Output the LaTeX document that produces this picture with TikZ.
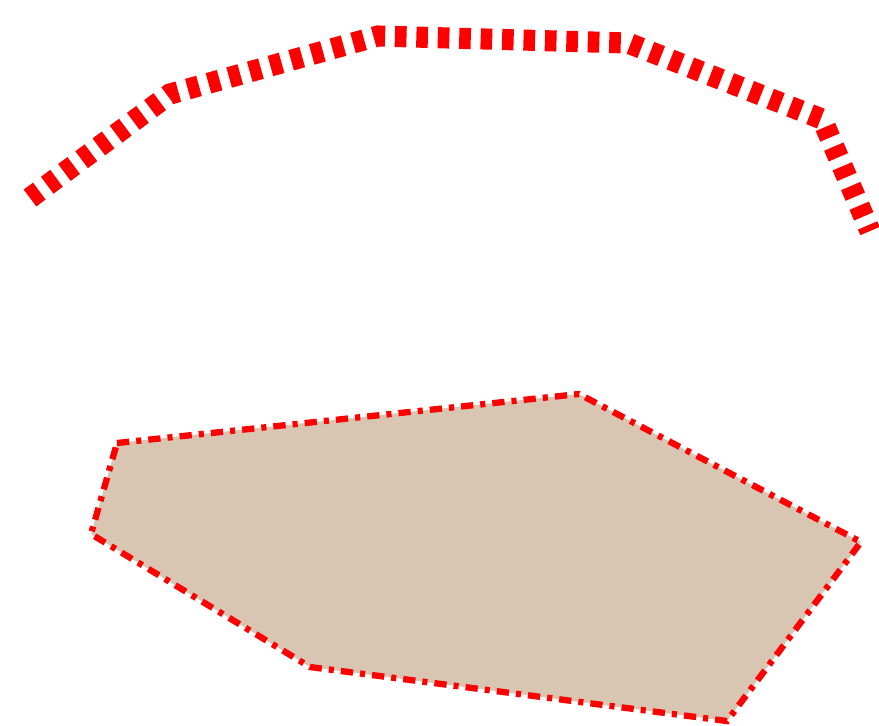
\documentclass[tikz,border=0pt]{standalone}
\usepackage{xcolor}
\usepackage{tikz}
\definecolor{tan}{RGB}{217,198,178}

\begin{document}
\begin{tikzpicture}[x=0.02cm,y=-0.02cm,
    bigdash/.style={draw=red, line width=12pt,
      dash pattern=on 6.6pt off 5.6pt},
    dashdot/.style={draw=red, line width=3.6pt,
      dash pattern=on 7pt off 4pt on 2.9pt off 4pt}]
\useasboundingbox (0,0) rectangle (879,725);
% upper broken line
\coordinate (p0) at (30,198);
\coordinate (p1) at (170,94);
\coordinate (p2) at (378,36);
\coordinate (p3) at (628,43);
\coordinate (p4) at (822,119);
\coordinate (p5) at (870,231);
\draw[bigdash] (p0) -- (p1) -- (p2) -- (p3) -- (p4) -- (p5);
%
% lower polygon
\coordinate (a) at (117,443);
\coordinate (b) at (579,394);
\coordinate (c) at (861,542);
\coordinate (d) at (727,721);
\coordinate (e) at (310,667);
\coordinate (f) at (91,534);
\fill[tan] (a) -- (b) -- (c) -- (d) -- (e) -- (f) -- cycle;
\draw[dashdot] (a) -- (b) -- (c) -- (d) -- (e) -- (f) -- cycle;
\end{tikzpicture}
\end{document}
